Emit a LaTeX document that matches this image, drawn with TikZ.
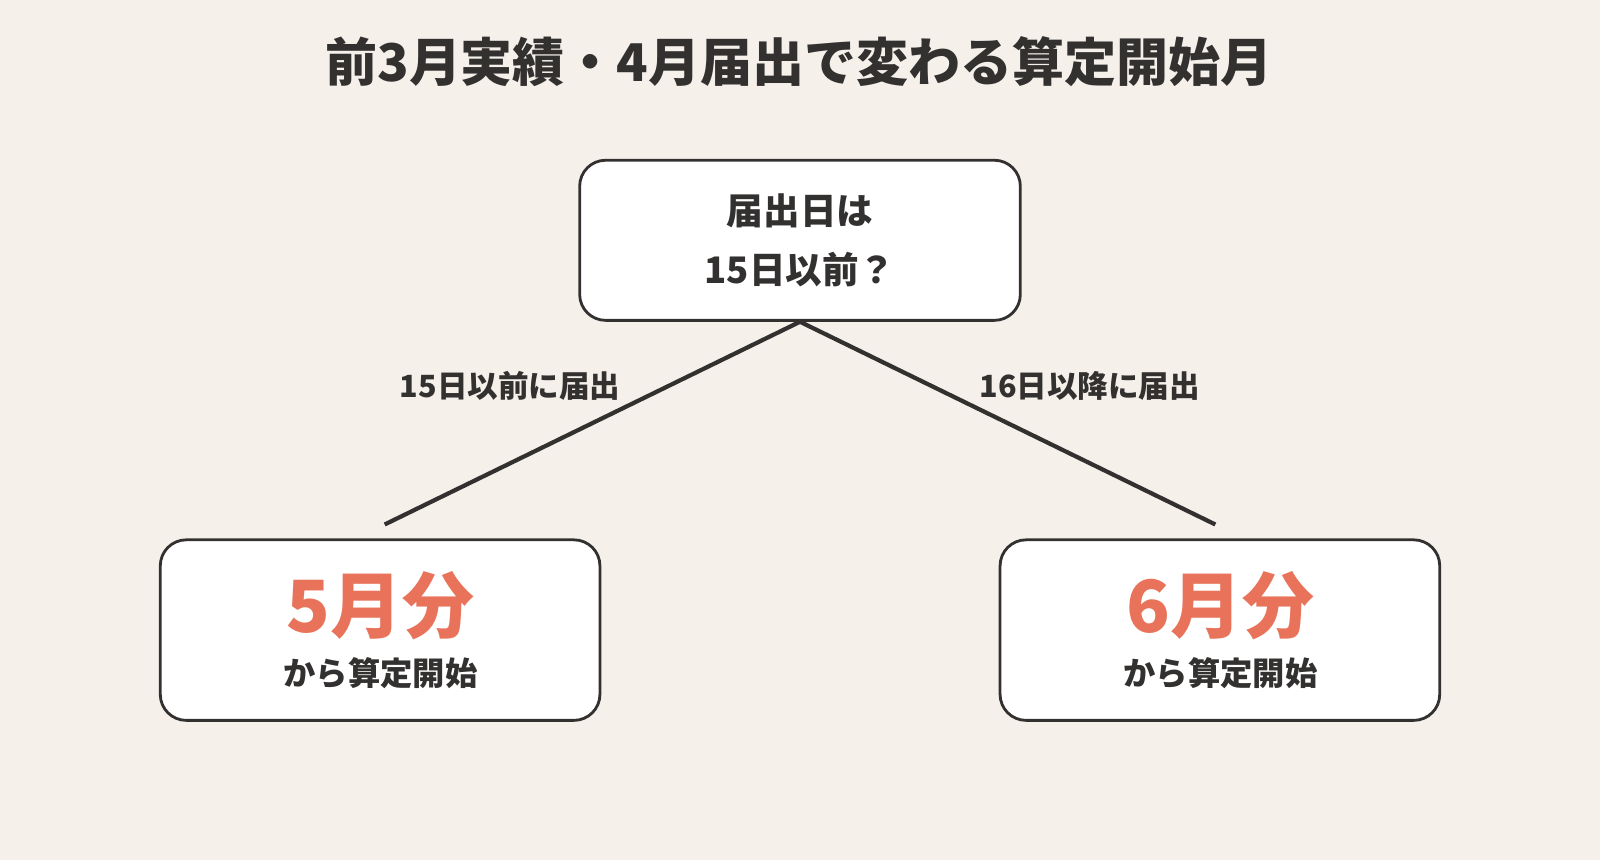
\documentclass[tikz,border=0pt]{standalone}
\usepackage{fontspec}
\setmainfont{Noto Sans CJK JP}
\usepackage{tikz}
\definecolor{bgcol}{HTML}{F5F0EA}
\definecolor{inkcol}{HTML}{333030}
\definecolor{accent}{HTML}{E8735A}
\tikzset{
  box/.style={draw=inkcol, line width=0.8pt, rounded corners=0.26cm, fill=white, align=center, text=inkcol},
  branch/.style={draw=inkcol, line width=1.2pt},
  lbl/.style={text=inkcol, font=\fontsize{8.7}{10}\selectfont\bfseries},
  big/.style={text=accent, font=\fontsize{20.5}{24}\selectfont\bfseries},
  sub/.style={text=inkcol, font=\fontsize{9.2}{11}\selectfont\bfseries}
}
\begin{document}
\begin{tikzpicture}[x=0.0102041cm, y=-0.0102041cm]
    \fill [bgcol] (0, 0) rectangle (1568, 843);
    \useasboundingbox (0, 0) rectangle (1568, 843);

    \node [text=inkcol, font=\fontsize{14.8}{18}\selectfont\bfseries] (title) at (783, 60) {前3月実績・4月届出で変わる算定開始月};

    \node [box, minimum width=4.408cm, minimum height=1.602cm, font=\fontsize{10.4}{17}\selectfont\bfseries] (q) at (784, 235.5) {届出日は\\15日以前？};

    \node [box, minimum width=4.398cm, minimum height=1.806cm] (may) at (372.5, 617.5) {};
    \node [box, minimum width=4.398cm, minimum height=1.806cm] (jun) at (1195.5, 617.5) {};

    \node [big] (mayt) at (373, 594) {5月分};
    \node [sub] (mays) at (373, 660) {から算定開始};
    \node [big] (junt) at (1196, 594) {6月分};
    \node [sub] (juns) at (1196, 660) {から算定開始};

    \coordinate (le) at (377, 514);
    \coordinate (re) at (1191, 514);
    \draw [branch] (q.south) -- (le);
    \draw [branch] (q.south) -- (re);

    \node [lbl] (ll) at (500, 378) {15日以前に届出};
    \node [lbl] (rl) at (1068, 378) {16日以降に届出};
\end{tikzpicture}
\end{document}
